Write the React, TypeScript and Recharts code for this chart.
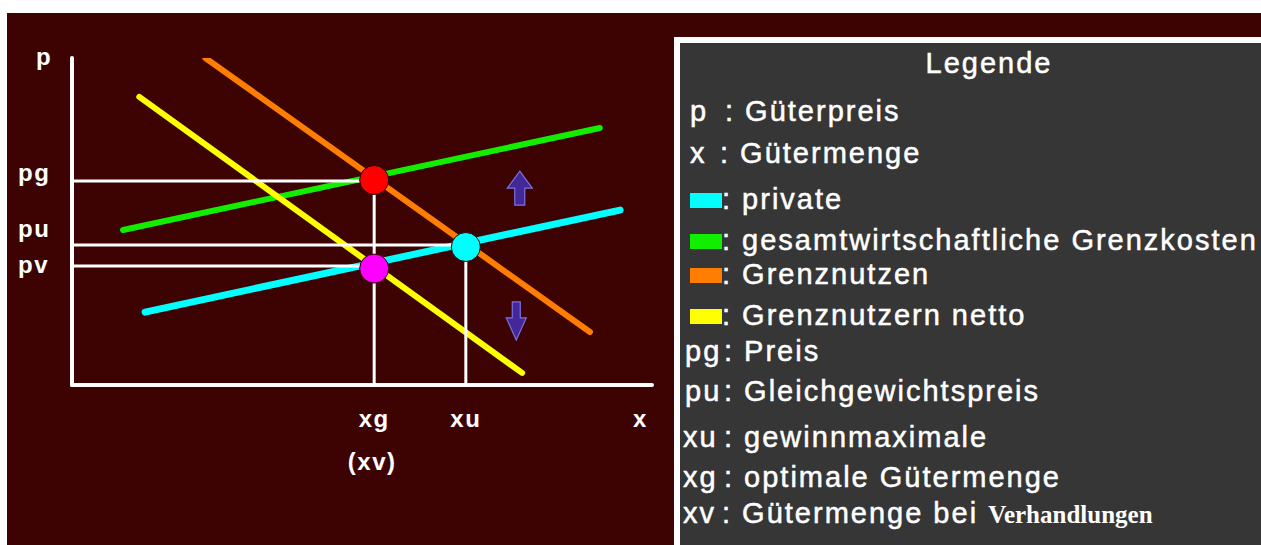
import React from 'react';
import { ComposedChart, Line, XAxis, YAxis, ReferenceLine, Scatter } from 'recharts';

// ---- data (x = Gütermenge, p = Güterpreis, both on a 0..100 scale) ----
const grenznutzen = [{ x: 23.0, p: 100 }, { x: 89.3, p: 16.2 }];
const grenznutzenNetto = [{ x: 11.6, p: 88.1 }, { x: 77.6, p: 3.7 }];
const gesamtGrenzkosten = [{ x: 8.8, p: 47.4 }, { x: 91.0, p: 78.6 }];
const privateGrenzkosten = [{ x: 12.6, p: 22.3 }, { x: 94.5, p: 53.5 }];

const xg = 52.1;
const xu = 67.9;
const pg = 62.4;
const pu = 42.8;
const pv = 36.4;

const points = [
  { name: 'g', x: 52.1, p: 62.7 },
  { name: 'u', x: 67.9, p: 42.2 },
  { name: 'v', x: 52.1, p: 35.6 },
];
const arrows = [
  { dir: 'up', x: 77.2, p: 60.2 },
  { dir: 'down', x: 76.6, p: 20.5 },
];

const xTicks = [xg, xu, 98];
const xTickLabels = ['xg', 'xu', 'x'];
const yTicks = [pv, pu, pg, 100];
const yTickLabels = ['pv', 'pu', 'pg', 'p'];

const legendTitle = 'Legende';
const legendRows = [
  { key: 'p', text: ': Güterpreis' },
  { key: 'x', text: ': Gütermenge' },
  { swatch: 'private', text: ': private' },
  { swatch: 'gesamt', text: ': gesamtwirtschaftliche Grenzkosten' },
  { swatch: 'nutzen', text: ': Grenznutzen' },
  { swatch: 'netto', text: ': Grenznutzern netto' },
  { key: 'pg', text: ': Preis' },
  { key: 'pu', text: ': Gleichgewichtspreis' },
  { key: 'xu', text: ': gewinnmaximale' },
  { key: 'xg', text: ': optimale Gütermenge' },
  { key: 'xv', text: ': Gütermenge bei ', serif: 'Verhandlungen' },
];

// ---- styles ----
const COLORS: Record<string, string> = {
  nutzen: '#ff7d00',
  netto: '#ffff00',
  gesamt: '#11ee00',
  private: '#00ffff',
  g: '#ff0000',
  u: '#00ffff',
  v: '#ff00ff',
};
const BG = '#3d0303';
const PANEL = '#363636';
const LABEL_FONT = '"Liberation Sans", Arial, sans-serif';

const yLabelStyle: Record<string, { dx: number; dy: number }> = {
  p: { dx: -36, dy: 7 },
  pg: { dx: -54, dy: 0 },
  pu: { dx: -54, dy: -8 },
  pv: { dx: -54, dy: 7 },
};

const legendLayout = [
  { y: 121, kx: 690, tx: 725 },
  { y: 163, kx: 690, tx: 720 },
  { y: 209, kx: 690, tx: 722 },
  { y: 250, kx: 690, tx: 722 },
  { y: 284, kx: 690, tx: 722 },
  { y: 325, kx: 690, tx: 722 },
  { y: 361, kx: 685, tx: 724 },
  { y: 401, kx: 685, tx: 724 },
  { y: 447, kx: 683, tx: 724 },
  { y: 487, kx: 683, tx: 724 },
  { y: 523, kx: 683, tx: 722 },
];

const YTick = (props: any) => {
  const i = yTicks.indexOf(props.payload.value);
  const label = yTickLabels[i];
  const s = yLabelStyle[label];
  return (
    <text x={props.x + s.dx} y={props.y + s.dy} fill="#fff" fontFamily={LABEL_FONT}
      fontWeight="bold" fontSize={24} letterSpacing={1.5} textAnchor="start">
      {label}
    </text>
  );
};

const XTick = (props: any) => {
  const i = xTicks.indexOf(props.payload.value);
  const label = xTickLabels[i];
  return (
    <g>
      <text x={props.x} y={props.y + 42} fill="#fff" fontFamily={LABEL_FONT}
        fontWeight="bold" fontSize={24} letterSpacing={1.5} textAnchor="middle">
        {label}
      </text>
      {label === 'xg' && (
        <text x={props.x - 2} y={props.y + 85} fill="#fff" fontFamily={LABEL_FONT}
          fontWeight="bold" fontSize={24} letterSpacing={1.5} textAnchor="middle">
          (xv)
        </text>
      )}
    </g>
  );
};

const Dot = (props: any) => (
  <circle cx={props.cx} cy={props.cy} r={14.5} fill={COLORS[props.payload.name]}
    stroke="#2a0000" strokeWidth={1} />
);

const Arrow = (props: any) => {
  const { cx, cy } = props;
  const up = props.payload.dir === 'up';
  const pts = up
    ? [[0, -17], [12.5, 0], [5, 0], [5, 17], [-5, 17], [-5, 0], [-12.5, 0]]
    : [[-4, -16], [4, -16], [4, 0], [10, 0], [0, 22], [-10, 0], [-4, 0]];
  return (
    <polygon points={pts.map(([a, b]) => `${cx + a},${cy + b}`).join(' ')}
      fill="#43289a" stroke="#7f70e0" strokeWidth={1.2} />
  );
};

const lineProps = {
  dataKey: 'p',
  dot: false,
  activeDot: false,
  isAnimationActive: false,
  type: 'linear' as const,
  strokeLinecap: 'round' as const,
  legendType: 'none' as const,
};

export default function App() {
  return (
    <div style={{ position: 'relative', width: 1261, height: 545, background: '#fff', overflow: 'hidden' }}>
      <style>{`body{margin:0}`}</style>
      <svg width={1261} height={545} style={{ position: 'absolute', left: 0, top: 0 }}>
        <rect x={7} y={13} width={1254} height={532} fill={BG} />
        <rect x={674} y={37} width={587} height={508} fill="#ffffff" />
        <rect x={680} y={43} width={581} height={502} fill={PANEL} />
        <g fill="#fff" stroke="#fff" strokeWidth={0.5} fontFamily={LABEL_FONT} fontSize={29} letterSpacing={2}>
          <text x={989} y={73} textAnchor="middle">{legendTitle}</text>
          {legendRows.map((r, i) => {
            const l = legendLayout[i];
            return (
              <g key={i}>
                {r.swatch ? (
                  <rect x={l.kx} y={l.y - 16} width={32} height={15} fill={COLORS[r.swatch]} stroke="none" />
                ) : (
                  <text x={l.kx} y={l.y}>{r.key}</text>
                )}
                <text x={l.tx} y={l.y}>
                  {r.text}
                  {r.serif && (
                    <tspan fontFamily='"Liberation Serif", "Times New Roman", serif' fontWeight="bold"
                      fontSize={25} letterSpacing={0} strokeWidth={0}>{r.serif}</tspan>
                  )}
                </text>
              </g>
            );
          })}
        </g>
      </svg>
      <div style={{ position: 'absolute', left: 0, top: 0 }}>
        <ComposedChart width={680} height={545} margin={{ top: 58, right: 28, bottom: 0, left: 0 }}>
          <XAxis type="number" dataKey="x" domain={[0, 100]} ticks={xTicks} interval={0}
            tick={XTick} tickLine={false} tickSize={0} tickMargin={0} height={160}
            axisLine={{ stroke: '#fff', strokeWidth: 4, strokeLinecap: 'round' }} allowDataOverflow />
          <YAxis type="number" dataKey="p" domain={[0, 100]} ticks={yTicks} interval={0}
            tick={YTick} tickLine={false} tickSize={0} tickMargin={0} width={72}
            axisLine={{ stroke: '#fff', strokeWidth: 4, strokeLinecap: 'round' }} allowDataOverflow />
          <Line {...lineProps} data={gesamtGrenzkosten} stroke={COLORS.gesamt} strokeWidth={6} />
          <Line {...lineProps} data={privateGrenzkosten} stroke={COLORS.private} strokeWidth={7} />
          <Line {...lineProps} data={grenznutzen} stroke={COLORS.nutzen} strokeWidth={6} />
          <Line {...lineProps} data={grenznutzenNetto} stroke={COLORS.netto} strokeWidth={6} />
          <ReferenceLine segment={[{ x: 0, y: pg }, { x: xg, y: pg }]} stroke="#fff" strokeWidth={3} />
          <ReferenceLine segment={[{ x: 0, y: pu }, { x: xu, y: pu }]} stroke="#fff" strokeWidth={3} />
          <ReferenceLine segment={[{ x: 0, y: pv }, { x: xg, y: pv }]} stroke="#fff" strokeWidth={3} />
          <ReferenceLine segment={[{ x: xg, y: 0 }, { x: xg, y: pg }]} stroke="#fff" strokeWidth={3} />
          <ReferenceLine segment={[{ x: xu, y: 0 }, { x: xu, y: pu }]} stroke="#fff" strokeWidth={3} />
          <Scatter data={arrows} dataKey="p" shape={Arrow} isAnimationActive={false} legendType="none" />
          <Scatter data={points} dataKey="p" shape={Dot} isAnimationActive={false} legendType="none" />
        </ComposedChart>
      </div>
    </div>
  );
}
